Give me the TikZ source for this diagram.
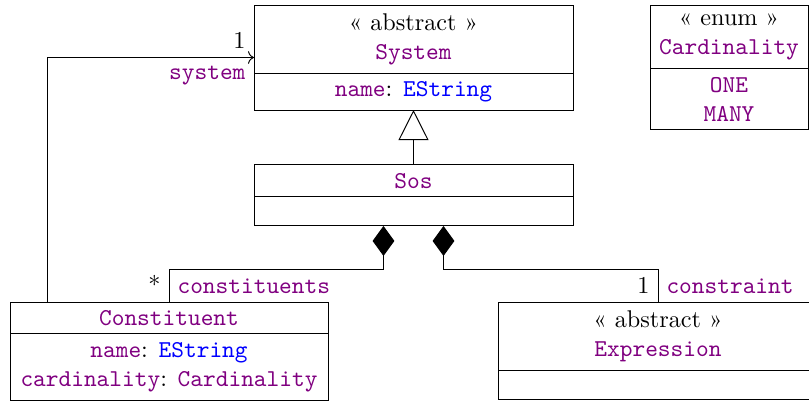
\documentclass[tikz,border=0pt]{standalone}
\usepackage{xcolor}
\usepackage{tikz}
\usetikzlibrary{arrows.meta, positioning, calc}

\definecolor{umlname}{rgb}{0.5,0,0.5}
\definecolor{umltype}{rgb}{0,0,1}
\newcommand{\cname}[1]{\textcolor{umlname}{\texttt{#1}}}
\newcommand{\ctype}[1]{\textcolor{umltype}{\texttt{#1}}}

\begin{document}
\begin{tikzpicture}[
    x=0.4132pt, y=-0.4132pt,
    classhead/.style={rectangle, draw, minimum width=131.8pt, inner sep=0pt, outer sep=0pt, align=center, anchor=north west},
    classbody/.style={rectangle, draw, minimum width=131.8pt, inner sep=0pt, outer sep=0pt, align=center},
    inherit/.style={-{Triangle[open, length=12.4pt, width=12.4pt]}},
    compo/.style={{Diamond[length=12.4pt, width=9pt]}-},
    assoc/.style={->}
]
    \useasboundingbox (0,0) rectangle (809,403);

    % System
    \node[classhead, minimum height=28.1pt] (sysh) at (254,5) {« abstract »\\ \cname{System}};
    \node[classbody, minimum height=15.3pt, below=0pt of sysh] (sysb) {\cname{name}: \ctype{EString}};

    % Cardinality enum
    \node[classhead, minimum width=65.3pt, minimum height=26.4pt] (enumh) at (650,5) {« enum »\\ \cname{Cardinality}};
    \node[classbody, minimum width=65.3pt, minimum height=25.2pt, below=0pt of enumh] (enumb) {\cname{ONE}\\ \cname{MANY}};

    % Sos
    \node[classhead, minimum height=13.2pt, below=22.7pt of sysb] (sosh) {\cname{Sos}};
    \node[classbody, minimum height=12pt, below=0pt of sosh] (sosb) {};

    % Constituent
    \node[classhead, minimum width=131.4pt, minimum height=13.2pt] (consth) at (10,302) {\cname{Constituent}};
    \node[classbody, minimum width=131.4pt, minimum height=27.7pt, below=0pt of consth] (constb) {\cname{name}: \ctype{EString}\\ \cname{cardinality}: \cname{Cardinality}};

    % Expression
    \node[classhead, minimum width=132.2pt, minimum height=28.5pt] (exprh) at (498,302) {« abstract »\\ \cname{Expression}};
    \node[classbody, minimum width=132.2pt, minimum height=11.6pt, below=0pt of exprh] (exprb) {};

    % relations
    \draw[inherit] (sosh.north) -- (sysb.south);
    \draw[assoc] ([xshift=15.3pt]consth.north west) |- ($(sysh.north west)!0.5!(sysb.south west)$)
        node[pos=1, above left] {1}
        node[pos=1, below left] {\cname{system}};
    \draw[compo] ([xshift=-12.4pt]sosb.south) -- ++(0,44) -| (consth.north)
        node[pos=1, above left] {*}
        node[pos=1, above right] {\cname{constituents}};
    \draw[compo] ([xshift=12.4pt]sosb.south) -- ++(0,44) -| (exprh.north)
        node[pos=1, above left] {1}
        node[pos=1, above right] {\cname{constraint}};
\end{tikzpicture}
\end{document}
